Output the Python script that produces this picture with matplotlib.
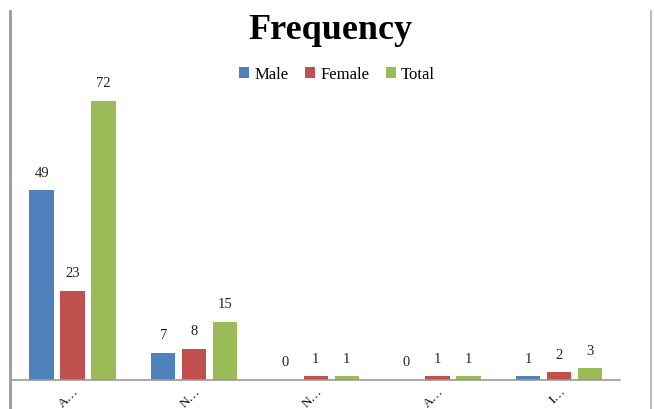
import matplotlib
matplotlib.use("Agg")
import matplotlib.pyplot as plt
from matplotlib.lines import Line2D
import numpy as np

categories = ["A…", "N…", "N…", "A…", "I…"]
male = [49, 7, 0, 0, 1]
female = [23, 8, 1, 1, 2]
total = [72, 15, 1, 1, 3]
series_names = ["Male", "Female", "Total"]
colors = ["#4F81BD", "#C0504D", "#9BBB59"]

plt.rcParams['font.family'] = ['Liberation Serif', 'DejaVu Serif']

fig = plt.figure(figsize=(6.54, 4.10), dpi=100)
ax = fig.add_axes([0.018, 0.0707, 0.930, 0.756])

x = np.arange(len(categories))
width = 0.2
offsets = [-0.255, 0.0, 0.255]
for vals, name, c, off in zip([male, female, total], series_names, colors, offsets):
    bars = ax.bar(x + off, vals, width, color=c, label=name)
    for b, v in zip(bars, vals):
        ax.text(b.get_x() + b.get_width() / 2, v + 3, str(v), ha='center', va='bottom',
                fontsize=10.5, color='#222222')

ax.set_xlim(-0.5, len(categories) - 0.5)
ax.set_ylim(0, 80)
ax.set_yticks([])
ax.set_xticks(x)
ax.set_xticklabels(categories, rotation=45, ha='right', rotation_mode='anchor', fontsize=9.5)
ax.tick_params(axis='x', length=0, pad=3)
for s in ['top', 'right', 'left']:
    ax.spines[s].set_visible(False)
ax.spines['bottom'].set_color('#999999')
ax.spines['bottom'].set_linewidth(1.2)

fig.text(0.505, 0.925, "Frequency", ha='center', va='center', fontsize=26, fontweight='bold')
leg = ax.legend(loc='upper center', bbox_to_anchor=(0.535, 1.06), ncol=3, frameon=False,
                fontsize=12, handlelength=0.6, handleheight=0.6, handletextpad=0.3,
                columnspacing=1.0)

fig.add_artist(Line2D([10 / 654, 10 / 654], [0, 1 - 12 / 410], transform=fig.transFigure,
                      color='#999999', lw=2))
fig.add_artist(Line2D([651 / 654, 651 / 654], [0, 1 - 12 / 410], transform=fig.transFigure,
                      color='#bbbbbb', lw=1.5))

fig.savefig("out.png", dpi=100)
